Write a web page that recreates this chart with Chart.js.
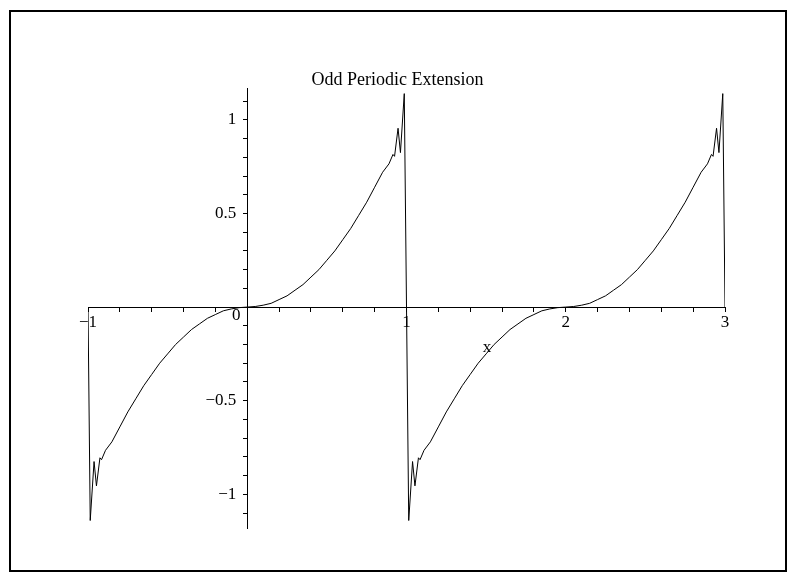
<!DOCTYPE html>
<html>
<head>
<meta charset="utf-8">
<title>Odd Periodic Extension</title>
<script src="https://cdn.jsdelivr.net/npm/chart.js@4.4.0/dist/chart.umd.min.js"></script>
<style>
  html, body { margin: 0; padding: 0; background: #fff; }
  #wrap { width: 795px; height: 581px; position: relative; }
</style>
</head>
<body>
<div id="wrap"><canvas id="chart"></canvas></div>
<script>
const titleText = 'Odd Periodic Extension';
const xAxisLabel = 'x';
const xLabelAt = [1.506, -0.214];   // where the "x" sits, in data units

// curve, one period after another
const xValues = [
  -1, -0.986, -0.962, -0.947, -0.925, -0.915, -0.89, -0.85, -0.8, -0.75, -0.7, -0.65,
  -0.6, -0.55, -0.5, -0.45, -0.4, -0.35, -0.3, -0.25, -0.2, -0.15, -0.1, -0.05,
  0, 0.05, 0.1, 0.15, 0.2, 0.25, 0.3, 0.35, 0.4, 0.45, 0.5, 0.55,
  0.6, 0.65, 0.7, 0.75, 0.8, 0.85, 0.89, 0.915, 0.925, 0.947, 0.962, 0.986,
  1, 1.014, 1.038, 1.053, 1.075, 1.085, 1.11, 1.15, 1.2, 1.25, 1.3, 1.35,
  1.4, 1.45, 1.5, 1.55, 1.6, 1.65, 1.7, 1.75, 1.8, 1.85, 1.9, 1.95,
  2, 2.05, 2.1, 2.15, 2.2, 2.25, 2.3, 2.35, 2.4, 2.45, 2.5, 2.55,
  2.6, 2.65, 2.7, 2.75, 2.8, 2.85, 2.89, 2.915, 2.925, 2.947, 2.962, 2.986, 3
];
const yValues = [
  0, -1.14, -0.825, -0.955, -0.805, -0.815, -0.765, -0.72, -0.64, -0.56, -0.49, -0.42,
  -0.36, -0.30, -0.25, -0.20, -0.16, -0.12, -0.09, -0.06, -0.04, -0.02, -0.01, -0.003,
  0, 0.003, 0.01, 0.02, 0.04, 0.06, 0.09, 0.12, 0.16, 0.20, 0.25, 0.30,
  0.36, 0.42, 0.49, 0.56, 0.64, 0.72, 0.765, 0.815, 0.805, 0.955, 0.825, 1.14,
  0, -1.14, -0.825, -0.955, -0.805, -0.815, -0.765, -0.72, -0.64, -0.56, -0.49, -0.42,
  -0.36, -0.30, -0.25, -0.20, -0.16, -0.12, -0.09, -0.06, -0.04, -0.02, -0.01, -0.003,
  0, 0.003, 0.01, 0.02, 0.04, 0.06, 0.09, 0.12, 0.16, 0.20, 0.25, 0.30,
  0.36, 0.42, 0.49, 0.56, 0.64, 0.72, 0.765, 0.815, 0.805, 0.955, 0.825, 1.14, 0
];

const xTickValues = [-1, -0.8, -0.6, -0.4, -0.2, 0, 0.2, 0.4, 0.6, 0.8, 1,
  1.2, 1.4, 1.6, 1.8, 2, 2.2, 2.4, 2.6, 2.8, 3];
const xTickLabels = ['\u22121', '', '', '', '', '', '', '', '', '', '1',
  '', '', '', '', '2', '', '', '', '', '3'];
const yTickValues = [-1.1, -1, -0.9, -0.8, -0.7, -0.6, -0.5, -0.4, -0.3, -0.2, -0.1, 0,
  0.1, 0.2, 0.3, 0.4, 0.5, 0.6, 0.7, 0.8, 0.9, 1, 1.1];
const yTickLabels = ['', '\u22121', '', '', '', '', '\u22120.5', '', '', '', '', '',
  '', '', '', '', '0.5', '', '', '', '', '1', ''];

const serif = 'Liberation Serif';

// frame, title, y labels, origin "0" and the x label, placed the way Maple does
// (a y axis pinned at x=0 puts its labels right on the line, so they are drawn here)
const annotate = {
  id: 'annotate',
  afterDraw(chart) {
    const { ctx, scales: { x, y } } = chart;
    const x0 = x.getPixelForValue(0);
    const y0 = y.getPixelForValue(0);
    ctx.save();
    ctx.strokeStyle = '#000';
    ctx.lineWidth = 2;
    ctx.strokeRect(10, 11, 776, 560);
    ctx.fillStyle = '#000';

    ctx.font = '18px "' + serif + '"';
    ctx.textAlign = 'center';
    ctx.textBaseline = 'middle';
    ctx.fillText(titleText, chart.width / 2, 80);

    ctx.font = '17px "' + serif + '"';
    ctx.fillText(xAxisLabel, x.getPixelForValue(xLabelAt[0]), y.getPixelForValue(xLabelAt[1]));
    ctx.fillText('0', x0 - 11, y0 + 8);

    ctx.textAlign = 'right';
    yTickValues.forEach((v, i) => {
      if (yTickLabels[i]) ctx.fillText(yTickLabels[i], x0 - 11, y.getPixelForValue(v));
    });
    ctx.restore();
  }
};

const axisCommon = {
  type: 'linear',
  grid: { drawOnChartArea: false, drawTicks: true, tickLength: 4, color: '#000' },
  border: { display: true, color: '#000', width: 1 },
};

new Chart(document.getElementById('chart'), {
  type: 'line',
  data: {
    datasets: [{
      data: xValues.map((v, i) => ({ x: v, y: yValues[i] })),
      borderColor: '#000',
      borderWidth: 1,
      pointRadius: 0,
      tension: 0,
      fill: false
    }]
  },
  options: {
    responsive: true,
    maintainAspectRatio: false,
    devicePixelRatio: 1,
    animation: false,
    layout: { padding: { left: 88, right: 70, top: 88, bottom: 53 } },
    plugins: {
      legend: { display: false },
      tooltip: { enabled: false },
      title: { display: false }
    },
    scales: {
      x: {
        ...axisCommon,
        min: -1, max: 3,
        position: { y: 0 },
        afterBuildTicks: s => { s.ticks = xTickValues.map(v => ({ value: v })); },
        ticks: {
          autoSkip: false, maxRotation: 0, padding: 1, color: '#000',
          font: { family: serif, size: 17 },
          callback: (v, i) => xTickLabels[i]
        }
      },
      y: {
        ...axisCommon,
        min: -1.18, max: 1.17,
        position: { x: 0 },
        afterBuildTicks: s => { s.ticks = yTickValues.map(v => ({ value: v })); },
        ticks: { autoSkip: false, display: false }
      }
    }
  },
  plugins: [annotate]
});
</script>
</body>
</html>
